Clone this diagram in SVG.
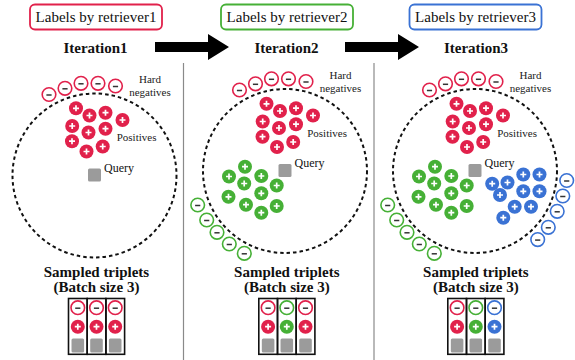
<svg xmlns="http://www.w3.org/2000/svg" xmlns:xlink="http://www.w3.org/1999/xlink" width="575" height="360" viewBox="0 0 575 360">
<style>
text{font-family:'Liberation Serif','DejaVu Serif',serif}
.lbl{font-size:15px;fill:#111}
.it{font-size:15px;font-weight:bold;fill:#111;text-anchor:middle}
.sm{font-size:11px;fill:#222}
.q{font-size:12px;fill:#111}
.dash{fill:none;stroke:#111;stroke-width:2;stroke-dasharray:3.5 3}
.sep{stroke:#8a8a8a;stroke-width:1.2}
.qs{fill:#9b9b9b}
.tb{fill:none;stroke:#111;stroke-width:1.6}
</style>
<defs>
<g id="mR"><circle r="6.8" fill="#fff" stroke="#e1214b" stroke-width="1.6"/><path d="M-2.6,0.5H2.6" stroke="#333" stroke-width="1.5"/></g>
<g id="mG"><circle r="6.8" fill="#fff" stroke="#46b036" stroke-width="1.6"/><path d="M-2.6,0.5H2.6" stroke="#333" stroke-width="1.5"/></g>
<g id="mB"><circle r="6.8" fill="#fff" stroke="#3a72d4" stroke-width="1.6"/><path d="M-2.6,0.5H2.6" stroke="#333" stroke-width="1.5"/></g>
<g id="pR"><circle r="7" fill="#e1214b"/><path d="M-3,0H3M0,-3V3" stroke="#fff" stroke-width="1.7"/></g>
<g id="pG"><circle r="7" fill="#46b036"/><path d="M-3,0H3M0,-3V3" stroke="#fff" stroke-width="1.7"/></g>
<g id="pB"><circle r="7" fill="#3a72d4"/><path d="M-3,0H3M0,-3V3" stroke="#fff" stroke-width="1.7"/></g>
<g id="base">
<circle class="dash" cx="94.5" cy="175.5" r="82"/>
<use href="#mR" x="49" y="94.5"/><use href="#mR" x="65" y="88.3"/><use href="#mR" x="81" y="83.3"/><use href="#mR" x="98" y="83.3"/><use href="#mR" x="115.5" y="86"/>
<text class="sm" x="150" y="83" text-anchor="middle" font-family="Liberation Serif, DejaVu Serif, serif">Hard</text>
<text class="sm" x="150" y="96" text-anchor="middle" font-family="Liberation Serif, DejaVu Serif, serif">negatives</text>
<use href="#pR" x="76" y="108.3"/><use href="#pR" x="89.5" y="115.5"/><use href="#pR" x="105.5" y="112.7"/><use href="#pR" x="122.5" y="120"/>
<use href="#pR" x="72.2" y="126"/><use href="#pR" x="88.5" y="132.5"/><use href="#pR" x="105.5" y="128.7"/>
<use href="#pR" x="72" y="141.2"/><use href="#pR" x="86.5" y="151.5"/><use href="#pR" x="102.7" y="146.5"/>
<text class="sm" x="116.7" y="141" font-family="Liberation Serif, DejaVu Serif, serif">Positives</text>
<rect class="qs" x="88" y="168.5" width="13" height="13" rx="1.5"/>
<text class="q" x="104" y="171.5" font-family="Liberation Serif, DejaVu Serif, serif">Query</text>
</g>
<g id="gpos">
<use href="#pG" x="245" y="166.7"/><use href="#pG" x="229" y="176.5"/><use href="#pG" x="261.3" y="176"/><use href="#pG" x="244.2" y="183.5"/><use href="#pG" x="276.7" y="185.5"/>
<use href="#pG" x="228.5" y="196.8"/><use href="#pG" x="261.3" y="193.3"/><use href="#pG" x="246" y="204.7"/><use href="#pG" x="276.7" y="206"/><use href="#pG" x="261.3" y="212.7"/>
<use href="#mG" x="197.7" y="205"/><use href="#mG" x="206.7" y="220"/><use href="#mG" x="217" y="232.3"/><use href="#mG" x="229.3" y="244"/><use href="#mG" x="244.3" y="253.3"/>
</g>
</defs>

<g id="label1"><rect x="30" y="4.5" width="132" height="25" rx="5" fill="#fff" stroke="#e1214b" stroke-width="1.8"/><text class="lbl" x="96" y="22" text-anchor="middle" font-family="Liberation Serif, DejaVu Serif, serif">Labels by retriever1</text></g>
<g id="label2"><rect x="221" y="4.5" width="132" height="25" rx="5" fill="#fff" stroke="#46b036" stroke-width="1.8"/><text class="lbl" x="287" y="22" text-anchor="middle" font-family="Liberation Serif, DejaVu Serif, serif">Labels by retriever2</text></g>
<g id="label3"><rect x="409.5" y="4.5" width="132" height="25" rx="5" fill="#fff" stroke="#3a72d4" stroke-width="1.8"/><text class="lbl" x="475.5" y="22" text-anchor="middle" font-family="Liberation Serif, DejaVu Serif, serif">Labels by retriever3</text></g>

<g id="iter1"><text class="it" x="95.5" y="52.5" font-family="Liberation Serif, DejaVu Serif, serif">Iteration1</text></g>
<g id="iter2"><text class="it" x="286.5" y="52.5" font-family="Liberation Serif, DejaVu Serif, serif">Iteration2</text></g>
<g id="iter3"><text class="it" x="476" y="52.5" font-family="Liberation Serif, DejaVu Serif, serif">Iteration3</text></g>

<g id="connectors">
<polygon points="155,42 208,42 208,34 229,47 208,60 208,52 155,52" fill="#000"/>
<polygon points="345,42 398,42 398,34 419,47 398,60 398,52 345,52" fill="#000"/>
<line class="sep" x1="183.5" y1="63" x2="183.5" y2="360"/>
<line class="sep" x1="374" y1="63" x2="374" y2="360"/>
</g>

<g id="panel1"><use href="#base"/></g>
<g id="panel2"><use href="#base" transform="translate(190.5,-4.5)"/><use href="#gpos"/></g>
<g id="panel3"><use href="#base" transform="translate(380.5,-4.5)"/><use href="#gpos" transform="translate(190,0)"/>
<use href="#pB" x="523.3" y="174.5"/><use href="#pB" x="539.5" y="174.5"/><use href="#pB" x="492.2" y="183.7"/><use href="#pB" x="507.5" y="182.5"/>
<use href="#pB" x="523.3" y="191.3"/><use href="#pB" x="539.5" y="191.3"/><use href="#pB" x="500" y="195"/>
<use href="#pB" x="514.7" y="206.7"/><use href="#pB" x="531" y="206.7"/><use href="#pB" x="503.3" y="217.7"/>
<use href="#mB" x="566.7" y="180.5"/><use href="#mB" x="562.8" y="196"/><use href="#mB" x="557.2" y="211.3"/><use href="#mB" x="548.3" y="227.3"/><use href="#mB" x="537.7" y="239.6"/>
</g>

<g id="triplets1">
<text class="it" x="96.5" y="277" font-family="Liberation Serif, DejaVu Serif, serif">Sampled triplets</text><text class="it" x="96.5" y="292" font-family="Liberation Serif, DejaVu Serif, serif">(Batch size 3)</text>
<rect class="tb" x="68.5" y="298.5" width="18.7" height="55.8"/><rect class="tb" x="87.2" y="298.5" width="18.7" height="55.8"/><rect class="tb" x="105.9" y="298.5" width="18.7" height="55.8"/>
<use href="#mR" x="77.8" y="307.7"/><use href="#mR" x="96.5" y="307.7"/><use href="#mR" x="115.2" y="307.7"/>
<use href="#pR" x="77.8" y="326.7"/><use href="#pR" x="96.5" y="326.7"/><use href="#pR" x="115.2" y="326.7"/>
<rect class="qs" x="71.5" y="338.5" width="12.6" height="14" rx="1.5"/><rect class="qs" x="90.2" y="338.5" width="12.6" height="14" rx="1.5"/><rect class="qs" x="108.9" y="338.5" width="12.6" height="14" rx="1.5"/>
</g>
<g id="triplets2" transform="translate(190.3,0)">
<text class="it" x="96.5" y="277" font-family="Liberation Serif, DejaVu Serif, serif">Sampled triplets</text><text class="it" x="96.5" y="292" font-family="Liberation Serif, DejaVu Serif, serif">(Batch size 3)</text>
<rect class="tb" x="68.5" y="298.5" width="18.7" height="55.8"/><rect class="tb" x="87.2" y="298.5" width="18.7" height="55.8"/><rect class="tb" x="105.9" y="298.5" width="18.7" height="55.8"/>
<use href="#mR" x="77.8" y="307.7"/><use href="#mG" x="96.5" y="307.7"/><use href="#mR" x="115.2" y="307.7"/>
<use href="#pR" x="77.8" y="326.7"/><use href="#pG" x="96.5" y="326.7"/><use href="#pR" x="115.2" y="326.7"/>
<rect class="qs" x="71.5" y="338.5" width="12.6" height="14" rx="1.5"/><rect class="qs" x="90.2" y="338.5" width="12.6" height="14" rx="1.5"/><rect class="qs" x="108.9" y="338.5" width="12.6" height="14" rx="1.5"/>
</g>
<g id="triplets3" transform="translate(379.3,0)">
<text class="it" x="96.5" y="277" font-family="Liberation Serif, DejaVu Serif, serif">Sampled triplets</text><text class="it" x="96.5" y="292" font-family="Liberation Serif, DejaVu Serif, serif">(Batch size 3)</text>
<rect class="tb" x="68.5" y="298.5" width="18.7" height="55.8"/><rect class="tb" x="87.2" y="298.5" width="18.7" height="55.8"/><rect class="tb" x="105.9" y="298.5" width="18.7" height="55.8"/>
<use href="#mR" x="77.8" y="307.7"/><use href="#mG" x="96.5" y="307.7"/><use href="#mB" x="115.2" y="307.7"/>
<use href="#pR" x="77.8" y="326.7"/><use href="#pG" x="96.5" y="326.7"/><use href="#pB" x="115.2" y="326.7"/>
<rect class="qs" x="71.5" y="338.5" width="12.6" height="14" rx="1.5"/><rect class="qs" x="90.2" y="338.5" width="12.6" height="14" rx="1.5"/><rect class="qs" x="108.9" y="338.5" width="12.6" height="14" rx="1.5"/>
</g>
</svg>
